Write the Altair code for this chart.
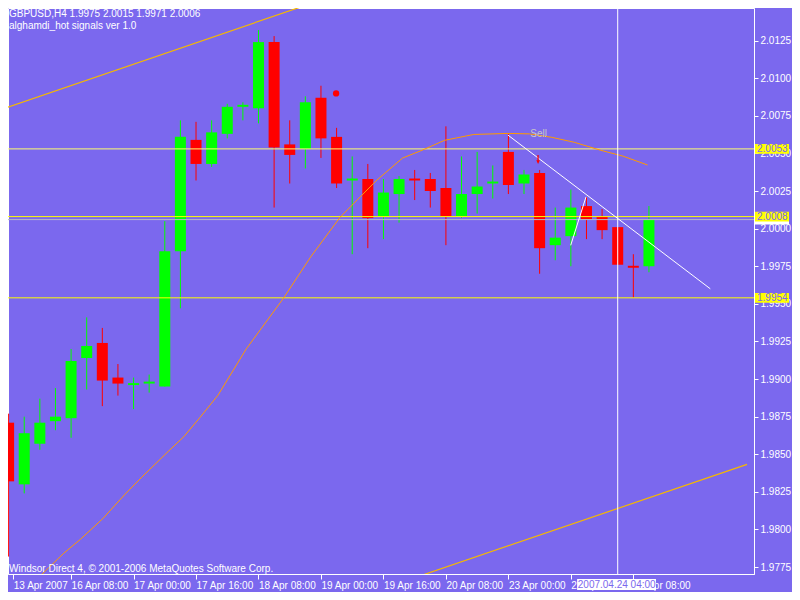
import altair as alt
import pandas as pd
import numpy as np

BG = "#7B68EE"
GREEN = "#00FF00"
RED = "#FF0000"
FONT = "Liberation Sans"

# ---------------- data ----------------
bar_idx = list(range(42))
opens = [1.9871, 1.9830, 1.9857, 1.9872, 1.9874, 1.9914, 1.9924, 1.9901, 1.9896, 1.9897,
         1.9895, 1.9985, 2.0059, 2.0043, 2.0063, 2.0081, 2.0080, 2.0124, 2.0056, 2.0053,
         2.0087, 2.0061, 2.0032, 2.0033, 2.0008, 2.0023, 2.0033, 2.0033, 2.0027, 2.0008,
         2.0023, 2.0030, 2.0051, 2.0030, 2.0037, 1.9989, 1.9995, 2.0015, 2.0008, 2.0001,
         1.9975, 1.9975]
highs = [1.9877, 1.9875, 1.9887, 1.9894, 1.9920, 1.9941, 1.9934, 1.9910, 1.9901, 1.9903,
         2.0005, 2.0072, 2.0071, 2.0072, 2.0083, 2.0084, 2.0132, 2.0128, 2.0072, 2.0088,
         2.0095, 2.0067, 2.0048, 2.0043, 2.0033, 2.0035, 2.0039, 2.0037, 2.0068, 2.0048,
         2.0051, 2.0042, 2.0063, 2.0039, 2.0039, 2.0014, 2.0026, 2.0021, 2.0013, 2.0001,
         1.9983, 2.0015]
lows = [1.9782, 1.9824, 1.9853, 1.9866, 1.9861, 1.9893, 1.9882, 1.9889, 1.9880, 1.9891,
        1.9895, 1.9947, 2.0032, 2.0041, 2.0060, 2.0072, 2.0070, 2.0014, 2.0030, 2.0040,
        2.0047, 2.0027, 1.9983, 1.9987, 1.9993, 2.0004, 2.0019, 2.0014, 1.9989, 2.0007,
        2.0010, 2.0020, 2.0023, 2.0023, 1.9970, 1.9979, 1.9975, 1.9993, 1.9993, 1.9976,
        1.9954, 1.9971]
closes = [1.9832, 1.9864, 1.9871, 1.9875, 1.9912, 1.9922, 1.9899, 1.9897, 1.9896, 1.9897,
          1.9985, 2.0061, 2.0043, 2.0064, 2.0081, 2.0081, 2.0124, 2.0054, 2.0049, 2.0084,
          2.0060, 2.0030, 2.0032, 2.0007, 2.0024, 2.0033, 2.0032, 2.0025, 2.0008, 2.0023,
          2.0028, 2.0030, 2.0029, 2.0036, 1.9987, 1.9994, 2.0014, 2.0006, 1.9999, 1.9976,
          1.9974, 2.0006]

x_tick_idx = [0.3, 4, 8, 12, 16, 20, 24, 28, 32, 36, 40]
x_labels = ["13 Apr 2007", "16 Apr 08:00", "17 Apr 00:00", "17 Apr 16:00", "18 Apr 08:00",
            "19 Apr 00:00", "19 Apr 16:00", "20 Apr 08:00", "23 Apr 00:00", "23 Apr 16:00",
            "24 Apr 08:00"]
y_ticks = [1.9775, 1.9800, 1.9825, 1.9850, 1.9875, 1.9900, 1.9925, 1.9950, 1.9975,
           2.0000, 2.0025, 2.0050, 2.0075, 2.0100, 2.0125]

level_prices = [2.0053, 2.0008, 1.9954]
level_colors = ["#FFFF70", "#FFFF00", "#FFFF00"]
bid_price = 2.0006

curve_idx = [2.09, 3.53, 4.59, 6.03, 7.47, 8.53, 10.22, 11.22, 12.28, 13.41, 15.22, 17.59,
             19.34, 21.22, 23.53, 25.22, 26.47, 27.91, 29.78, 31.97, 33.34, 34.78, 36.22,
             37.91, 39.34, 40.91]
curve_price = [1.97698, 1.97842, 1.97934, 1.98072, 1.98236, 1.98348, 1.98519, 1.98617,
               1.98748, 1.98893, 1.99201, 1.99536, 1.99812, 2.00075, 2.00318, 2.00469,
               2.00521, 2.00587, 2.00626, 2.00633, 2.00630, 2.00607, 2.00574, 2.00521,
               2.00482, 2.00423]

chan_up_idx = [-0.05, 19.34]
chan_up_price = [2.00808, 2.01496]
chan_lo_idx = [26.53, 47.28]
chan_lo_price = [1.97698, 1.98433]

white_a_idx = [31.97, 44.93]
white_a_price = [2.00622, 1.99600]
white_b_idx = [35.99, 36.97]
white_b_price = [1.99889, 2.00211]

dot_idx, dot_price = [20.97], [2.00899]
arrow_idx, arrow_price = [33.9], [2.00459]
sell_idx, sell_price, sell_text = [33.4], [2.00626], ["Sell"]
cross_idx, cross_text = [39], ["2007.04.24 04:00"]

title_lines = ["GBPUSD,H4  1.9975 2.0015 1.9971 2.0006", "alghamdi_hot signals ver 1.0"]
footer_text = ["Windsor Direct 4, \u00a9 2001-2006 MetaQuotes Software Corp."]

# ---------------- geometry ----------------
W, H = 746, 566
X_DOM = [0.28125, 47.40625]
Y_DOM = [1.977041, 2.014667]
xs = alt.Scale(domain=X_DOM, nice=False, zero=False)
ys = alt.Scale(domain=Y_DOM, nice=False, zero=False)

label_expr = "[" + ",".join("'%s'" % s for s in x_labels) + "][round(datum.value/4)]"
AX_X = alt.Axis(
    values=x_tick_idx, labelExpr=label_expr, labelAlign="left", labelBaseline="top",
    labelPadding=1, tickSize=5, tickColor="white", domainColor="white",
    labelColor="white", labelFontSize=10, labelFont=FONT, grid=False, title=None,
    labelOverlap=False, labelFlush=False, labelBound=False, zindex=0)
AX_Y = alt.Axis(
    orient="right", values=y_ticks, format=".4f", labelAlign="left",
    labelPadding=2, tickSize=4, tickColor="white", domainColor="white",
    labelColor="white", labelFontSize=10, labelFont=FONT, grid=False, title=None,
    labelOverlap=False, labelFlush=False, labelBound=False, zindex=0)


def X(f, **kw):
    return alt.X(f, scale=xs, axis=AX_X, **kw)


def Y(f, **kw):
    return alt.Y(f, scale=ys, axis=AX_Y, **kw)


# ---------------- frames ----------------
df = pd.DataFrame({"i": bar_idx, "o": opens, "h": highs, "l": lows, "c": closes})
df["dir"] = np.where(df["c"] >= df["o"], "up", "down")
df["lo"] = df[["o", "c"]].min(axis=1)
df["hi"] = np.maximum(df[["o", "c"]].max(axis=1), df["lo"] + 0.00013)

col = alt.Color("dir:N", scale=alt.Scale(domain=["up", "down"], range=[GREEN, RED]), legend=None)

wicks = alt.Chart(df).mark_rule(strokeWidth=1, clip=True).encode(
    x=X("i:Q"), y=Y("l:Q"), y2="h:Q", color=col)

bodies = alt.Chart(df).mark_bar(size=11, clip=True).encode(
    x=X("i:Q"), y=Y("lo:Q"), y2="hi:Q", color=col)

lv = pd.DataFrame({"p": level_prices, "col": level_colors})
hlines = alt.Chart(lv).mark_rule(strokeWidth=1).encode(
    y=Y("p:Q"), color=alt.Color("col:N", scale=None))

bid = alt.Chart(pd.DataFrame({"p": [bid_price]})).mark_rule(
    strokeWidth=1, color="#B8B8C8").encode(y=Y("p:Q"))

curve = alt.Chart(pd.DataFrame({"i": curve_idx, "p": curve_price})).mark_line(
    color="#FF9A00", strokeWidth=1, clip=True).encode(x=X("i:Q"), y=Y("p:Q"), order="i:Q")

chan = pd.concat([
    pd.DataFrame({"i": chan_up_idx, "p": chan_up_price, "g": "up"}),
    pd.DataFrame({"i": chan_lo_idx, "p": chan_lo_price, "g": "lo"}),
])
chan_lines = alt.Chart(chan).mark_line(color="#F5B800", strokeWidth=1.2, clip=True).encode(
    x=X("i:Q"), y=Y("p:Q"), detail="g:N")

wl = pd.concat([
    pd.DataFrame({"i": white_a_idx, "p": white_a_price, "g": "a"}),
    pd.DataFrame({"i": white_b_idx, "p": white_b_price, "g": "b"}),
])
white_lines = alt.Chart(wl).mark_line(color="white", strokeWidth=1, clip=True).encode(
    x=X("i:Q"), y=Y("p:Q"), detail="g:N")

dot = alt.Chart(pd.DataFrame({"i": dot_idx, "p": dot_price})).mark_circle(
    size=40, color=RED, opacity=1).encode(x=X("i:Q"), y=Y("p:Q"))

arrow = alt.Chart(pd.DataFrame({"i": arrow_idx, "p": arrow_price})).mark_point(
    shape="arrow", angle=180, filled=True, size=80, color=RED, opacity=1).encode(
    x=X("i:Q"), y=Y("p:Q"))

sell = alt.Chart(pd.DataFrame({"i": sell_idx, "p": sell_price, "t": sell_text})).mark_text(
    align="left", baseline="middle", color="#C8C8C8", fontSize=10, font=FONT).encode(
    x=X("i:Q"), y=Y("p:Q"), text="t:N")

cross_df = pd.DataFrame({"i": cross_idx, "t": cross_text})
cross = alt.Chart(cross_df).mark_rule(color="white", strokeWidth=1).encode(x=X("i:Q"))
cross_box = alt.Chart(cross_df).transform_calculate(
    a="datum.i - 2.6", b="datum.i + 2.45").mark_rect(color="white", clip=False).encode(
    x=X("a:Q"), x2="b:Q", y=alt.value(H + 5), y2=alt.value(H + 16))
cross_txt = alt.Chart(cross_df).mark_text(
    align="center", baseline="middle", color=BG, fontSize=10, font=FONT, dx=-1).encode(
    x=X("i:Q"), y=alt.value(H + 10.5), text="t:N")

# price labels on the right axis
bid_df = pd.DataFrame({"p": [bid_price], "fill": ["white"]})
lab_df = pd.DataFrame({"p": level_prices, "fill": ["#FFFF00"] * len(level_prices)})


def price_box(frame):
    base = alt.Chart(frame).transform_calculate(
        top="datum.p + 0.00032", bot="datum.p - 0.00032")
    return base.mark_rect(clip=False).encode(
        x=alt.value(W + 1), x2=alt.value(W + 35), y=Y("top:Q"), y2="bot:Q",
        color=alt.Color("fill:N", scale=None))


def price_text(frame):
    base = alt.Chart(frame).transform_calculate(txt="format(datum.p, '.4f')")
    return base.mark_text(align="left", baseline="middle", color=BG, fontSize=10,
                          font=FONT).encode(x=alt.value(W + 3), y=Y("p:Q"), text="txt:N")


title_df = pd.DataFrame({"t": title_lines, "row": [0, 1]})
titles = alt.Chart(title_df).mark_text(
    align="left", baseline="middle", color="white", fontSize=10, font=FONT).encode(
    x=alt.value(1), y=alt.value(6),
    yOffset=alt.YOffset("row:Q", scale=alt.Scale(domain=[0, 1], range=[0, 12])),
    text="t:N")
footer = alt.Chart(pd.DataFrame({"t": footer_text})).mark_text(
    align="left", baseline="middle", color="white", fontSize=10, font=FONT).encode(
    x=alt.value(1), y=alt.value(H - 5), text="t:N")

chart = alt.layer(
    wicks, bodies, hlines, bid, curve, chan_lines, white_lines, dot, arrow, sell,
    cross, cross_box, cross_txt, price_box(bid_df), price_box(lab_df), price_text(lab_df),
    titles, footer
).properties(
    width=W, height=H,
    autosize=alt.AutoSizeParams(type="none"),
    padding={"left": 0, "top": 0, "right": 38, "bottom": 18},
    background=BG,
).configure_view(stroke="white", strokeWidth=1, fill=BG)

chart.save("out.html", embed_options={"renderer": "svg", "actions": False})
